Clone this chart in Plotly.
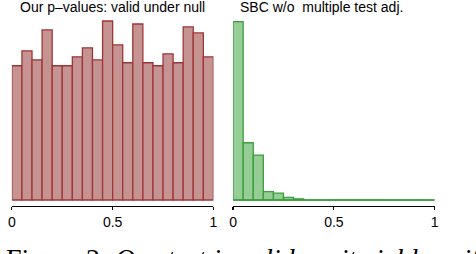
import plotly.graph_objects as go

# data
bin_centers = [round(0.025 + i * 0.05, 4) for i in range(20)]
ours_counts = [45, 50, 47, 57, 45, 45, 48, 51, 47, 60, 52, 46, 59, 46, 45, 49, 46, 58, 56, 48]
sbc_counts = [595, 191, 150, 28, 23, 9, 4, 0, 0, 0, 0, 0, 0, 0, 0, 0, 0, 0, 0, 0]
tick_vals = [0, 0.5, 1]
tick_text = ["0", "0.5", "1"]
titles = ["Our p\u2013values: valid under null", "SBC w/o  multiple test adj."]
caption = "Figure 2: <i>Our test is valid, as it yields uniformly</i>"

W, H = 476, 254
fig = go.Figure()

red_fill = "rgb(198,147,147)"
red_edge = "#a03535"
green_fill = "rgb(150,204,150)"
green_edge = "#3a9e3a"

fig.add_trace(go.Bar(x=bin_centers, y=ours_counts, width=0.05,
                     marker=dict(color=red_fill, line=dict(color=red_edge, width=1.3)),
                     xaxis="x", yaxis="y", showlegend=False, hoverinfo="skip"))
fig.add_trace(go.Bar(x=bin_centers, y=sbc_counts, width=0.05,
                     marker=dict(color=green_fill, line=dict(color=green_edge, width=1.3)),
                     xaxis="x2", yaxis="y2", showlegend=False, hoverinfo="skip"))

# baseline for empty bins on the right
fig.add_shape(type="line", xref="x2", yref="y2", x0=0, x1=1, y0=0, y1=0,
              line=dict(color=green_edge, width=1.3))

def px_x(p):
    return p / W

top_px, axis_px, base_px = 20, 206, 200
plot_h = axis_px - top_px

def px_y(p):
    return (axis_px - p) / plot_h

font = dict(family="Liberation Sans, Arial, sans-serif", size=14, color="black")

def yrange(maxval, maxpx):
    per_px = maxval / maxpx
    return [-(axis_px - base_px) * per_px, (base_px - top_px) * per_px]

ax_common = dict(range=[0, 1], tickvals=tick_vals, ticktext=tick_text, showline=True,
                 linecolor="black", linewidth=1.2, ticks="outside", ticklen=3,
                 tickcolor="black", tickwidth=1.2, showgrid=False, zeroline=False,
                 tickfont=font, fixedrange=True)
y_common = dict(visible=False, showgrid=False, zeroline=False, fixedrange=True)

fig.update_layout(
    width=W, height=H,
    margin=dict(l=0, r=0, t=top_px, b=H - axis_px),
    plot_bgcolor="white", paper_bgcolor="white",
    bargap=0,
    xaxis=dict(domain=[px_x(8), px_x(213)], anchor="y", **ax_common),
    xaxis2=dict(domain=[px_x(233), px_x(438)], anchor="y2", **ax_common),
    yaxis=dict(domain=[0, 1], range=yrange(60, 179), **y_common),
    yaxis2=dict(domain=[0, 1], range=yrange(595, 178.3), anchor="x2", **y_common),
)

fig.add_annotation(text=titles[0], x=px_x(110), y=px_y(7), xref="paper", yref="paper",
                   xanchor="center", yanchor="middle", showarrow=False, font=font)
fig.add_annotation(text=titles[1], x=px_x(323), y=px_y(7), xref="paper", yref="paper",
                   xanchor="center", yanchor="middle", showarrow=False, font=font)

# figure caption (cut off at bottom edge as in the reference)
fig.add_annotation(text=caption, x=px_x(1), y=px_y(242), xref="paper", yref="paper",
                   xanchor="left", yanchor="top", showarrow=False, borderpad=0,
                   font=dict(family="Liberation Serif, Times New Roman, serif", size=28, color="black"))

fig.write_html("out.html", config={"displayModeBar": False, "staticPlot": True},
               post_script="document.body.style.margin='0';document.body.style.overflow='hidden';")
